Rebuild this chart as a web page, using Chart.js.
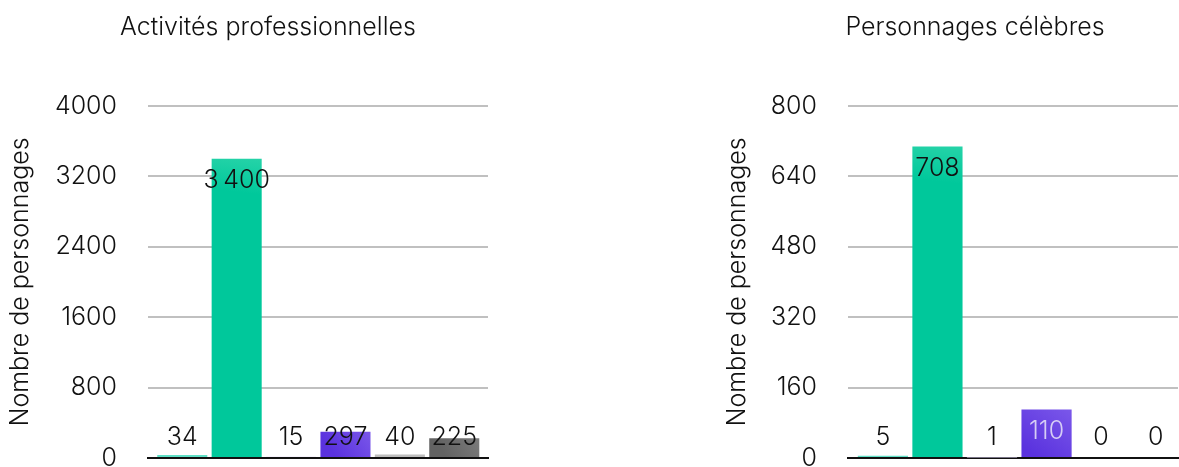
<!DOCTYPE html>
<html><head><meta charset="utf-8">
<script src="https://cdn.jsdelivr.net/npm/chart.js@4.4.1/dist/chart.umd.min.js"></script>
<style>
html,body{margin:0;padding:0;overflow:hidden;background:#fff;width:1179px;height:467px;}
#wrap{position:relative;width:1179px;height:467px;overflow:hidden;}
.box{position:absolute;top:0;height:467px;}
#b1{left:0;width:536px;}
#b2{left:717px;width:516px;}
</style></head><body>
<div id="wrap"><div class="box" id="b1"><canvas id="c1"></canvas></div><div class="box" id="b2"><canvas id="c2"></canvas></div></div>
<script>
// ---- data ----
const categories = ['Catégorie 1', 'Catégorie 2', 'Catégorie 3', 'Catégorie 4', 'Catégorie 5', 'Catégorie 6'];
const proValues = [34, 3400, 15, 297, 40, 225];
const celebValues = [5, 708, 1, 110, 0, 0];
const proTicks = [0, 800, 1600, 2400, 3200, 4000];
const celebTicks = [0, 160, 320, 480, 640, 800];
const proTitle = 'Activités professionnelles';
const celebTitle = 'Personnages célèbres';
const yAxisTitle = 'Nombre de personnages';

// ---- styles ----
const barColors = ['#5fe0c6', '#00c89b', '#ddd3f8', '#5a32de', '#bebebe', '#626262'];
const barGlow = [null, '#26d3a8', null, '#7b58ea', null, '#7c7c7c'];
const glowStop = [0, 0.12, 0, 1, 0, 1];
const darkBars = [false, false, false, true, false, true];
const FONT = 'Inter';
const FSIZE = 25;

function barFill(c) {
  const i = c.dataIndex;
  const base = barColors[i];
  if (!barGlow[i] || !c.chart.chartArea || !c.parsed) return base;
  const xs = c.chart.scales.x, ys = c.chart.scales.y;
  const cx = xs.getPixelForValue(i);
  const top = ys.getPixelForValue(c.parsed.y), bot = ys.getPixelForValue(0);
  const half = (xs.getPixelForValue(1) - xs.getPixelForValue(0)) / 2;
  const g = c.chart.ctx.createLinearGradient(cx + half, top, cx - half * 0.3, bot);
  g.addColorStop(0, barGlow[i]);
  g.addColorStop(glowStop[i], base);
  g.addColorStop(1, base);
  return g;
}

const valueLabels = {
  id: 'valueLabels',
  afterDatasetsDraw(chart) {
    const ctx = chart.ctx, meta = chart.getDatasetMeta(0), ys = chart.scales.y;
    const ds = chart.data.datasets[0];
    ctx.save();
    ctx.font = '300 ' + FSIZE + 'px ' + FONT;
    ctx.textAlign = 'center';
    ctx.textBaseline = 'middle';
    meta.data.forEach((el, i) => {
      const v = ds.data[i].y;
      const ly = Math.min(el.y + 22, ys.bottom - 21);
      const inside = darkBars[i] && el.y <= ly - 14;
      ctx.fillStyle = inside ? '#d6cdf5' : '#111';
      ctx.fillText(v.toLocaleString('fr-FR'), el.x, ly);
    });
    ctx.restore();
  }
};

function makeChart(id, title, values, ticks, xmin, xmax, padSide, yWidth, yTitleShift) {
  const maxV = ticks[ticks.length - 1];
  const font = {family: FONT, size: FSIZE, weight: '300'};
  return new Chart(document.getElementById(id), {
    type: 'bar',
    data: {
      labels: categories,
      datasets: [{
        data: values.map((v, i) => ({x: i, y: v})),
        backgroundColor: barFill,
        borderWidth: 0,
        barPercentage: 0.92,
        categoryPercentage: 1
      }]
    },
    plugins: [valueLabels],
    options: {
      responsive: true,
      maintainAspectRatio: false,
      animation: false,
      layout: {autoPadding: false, padding: {left: padSide, right: padSide, top: 0, bottom: 9}},
      plugins: {
        legend: {display: false},
        tooltip: {enabled: false},
        title: {
          display: true, text: title, color: '#111', font: font,
          padding: {top: 12, bottom: 64}
        }
      },
      scales: {
        x: {
          type: 'linear', min: xmin, max: xmax, z: 1, offset: false,
          ticks: {display: false},
          grid: {display: false, drawTicks: false, offset: false},
          border: {display: true, color: '#111', width: 2}
        },
        y: {
          min: 0, max: maxV,
          afterBuildTicks: s => { s.ticks = ticks.map(v => ({value: v})); },
          afterFit: s => { s.width = yWidth; s.paddingTop = 0; s.paddingBottom = 0; },
          ticks: {color: '#111', padding: 0, font: font, callback: v => String(v)},
          grid: {color: '#c0c0c0', lineWidth: 2, drawTicks: true, tickLength: 31, tickColor: 'rgba(0,0,0,0)'},
          border: {display: false},
          title: {display: true, text: yAxisTitle, color: '#111', padding: {top: yTitleShift, bottom: 0}, font: font}
        }
      }
    }
  });
}

makeChart('c1', proTitle, proValues, proTicks, -0.63, 5.62, 48, 100, -43);
makeChart('c2', celebTitle, celebValues, celebTicks, -0.64, 5.41, 55, 76, -50);
</script>
</body></html>
